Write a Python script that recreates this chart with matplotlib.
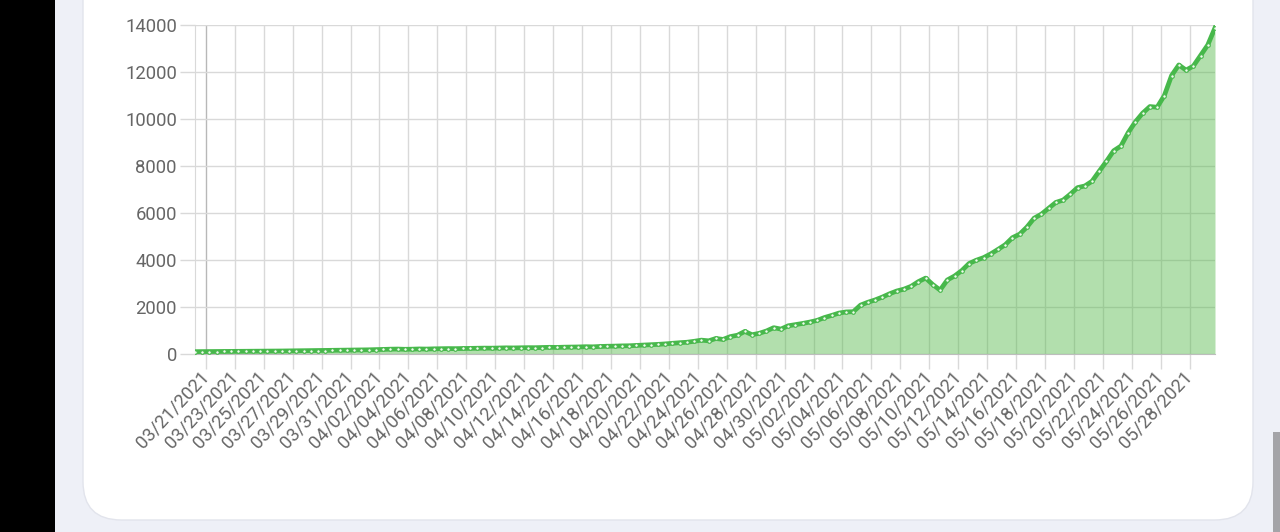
import matplotlib
matplotlib.use('Agg')
import matplotlib.pyplot as plt
from matplotlib.patches import Rectangle, FancyBboxPatch
import pandas as pd

start_time = '2021-03-20 06:00'
step = '12h'

values = [
    100, 102, 105, 104, 108, 110, 112, 110, 115, 118,
    122, 125, 128, 132, 135, 138, 140, 145, 148, 152,
    158, 162, 168, 172, 178, 185, 195, 205, 210, 200,
    205, 215, 210, 220, 225, 230, 228, 235, 240, 245,
    250, 248, 255, 262, 258, 265, 270, 268, 275, 285,
    280, 290, 295, 300, 310, 305, 320, 330, 335, 345,
    350, 365, 380, 395, 410, 430, 455, 480, 500, 540,
    590, 560, 660, 620, 740, 800, 960, 820, 880, 980,
    1120, 1060, 1200, 1250, 1300, 1360, 1430, 1550, 1640, 1740,
    1790, 1800, 2080, 2200, 2300, 2420, 2560, 2680, 2760, 2880,
    3080, 3230, 2950, 2720, 3150, 3320, 3550, 3850, 3990, 4100,
    4260, 4450, 4650, 4950, 5100, 5400, 5780, 5950, 6200, 6450,
    6550, 6800, 7080, 7150, 7350, 7780, 8200, 8650, 8850, 9420,
    9880, 10250, 10530, 10500, 11000, 11850, 12300, 12080, 12250, 12700,
    13150, 13880,
]

tick_labels = [
    '03/21/2021', '03/23/2021', '03/25/2021', '03/27/2021', '03/29/2021',
    '03/31/2021', '04/02/2021', '04/04/2021', '04/06/2021', '04/08/2021',
    '04/10/2021', '04/12/2021', '04/14/2021', '04/16/2021', '04/18/2021',
    '04/20/2021', '04/22/2021', '04/24/2021', '04/26/2021', '04/28/2021',
    '04/30/2021', '05/02/2021', '05/04/2021', '05/06/2021', '05/08/2021',
    '05/10/2021', '05/12/2021', '05/14/2021', '05/16/2021', '05/18/2021',
    '05/20/2021', '05/22/2021', '05/24/2021', '05/26/2021', '05/28/2021',
]
y_ticks = [0, 2000, 4000, 6000, 8000, 10000, 12000, 14000]

plt.rcParams['font.family'] = ['Roboto', 'DejaVu Sans']

W, H = 1280, 532
fig = plt.figure(figsize=(W / 100, H / 100), dpi=100)
fig.patch.set_facecolor('#eef0f7')

# page decorations
fig.add_artist(Rectangle((0, 0), 55 / W, 1, transform=fig.transFigure,
                         facecolor='black', edgecolor='none', zorder=0))
card = FancyBboxPatch((83 / W, (H - 520) / H), (1253 - 83) / W, 1.2,
                      boxstyle='round,pad=0,rounding_size=0.03',
                      mutation_aspect=W / H,
                      transform=fig.transFigure, facecolor='white',
                      edgecolor='#e2e4ec', linewidth=1.0, zorder=0)
fig.add_artist(card)
fig.add_artist(Rectangle((1273 / W, 0), 7 / W, (H - 432) / H, transform=fig.transFigure,
                         facecolor='#a4a4a8', edgecolor='none', zorder=0))

ax = fig.add_axes([195 / W, (H - 354) / H, 1020 / W, 329 / H])
ax.set_facecolor('none')

times = pd.date_range(start_time, periods=len(values), freq=step)
tick_pos = pd.to_datetime(tick_labels, format='%m/%d/%Y')

ax.fill_between(times, values, 0, color='#55b94a', alpha=0.45, linewidth=0, zorder=2)
ax.plot(times, values, color='#47b84b', linewidth=3.4, marker='o', markersize=2.6,
        markerfacecolor='#f0fbef', markeredgecolor='#47b84b', markeredgewidth=0.8, zorder=3)

ax.set_xlim(times[0], times[-1])
ax.set_ylim(0, 14000)
ax.set_yticks(y_ticks)
ax.set_yticklabels([str(v) for v in y_ticks])
ax.set_xticks(tick_pos)
ax.set_xticklabels(tick_labels, rotation=47, ha='right', va='center',
                   rotation_mode='anchor')

ax.grid(True, color='#d9d9d9', linewidth=1.0, zorder=1)
ax.set_axisbelow(True)
ax.tick_params(axis='both', colors='#d9d9d9', labelcolor='#666666', labelsize=13.3,
               length=11, width=1.0)
ax.tick_params(axis='x', pad=3)
ax.tick_params(axis='y', pad=2)
ax.get_xgridlines()[0].set_color('#b8b8b8')
for s in ['top', 'right']:
    ax.spines[s].set_visible(False)
ax.spines['left'].set_color('#d9d9d9')
ax.spines['bottom'].set_color('#bdbdbd')

fig.savefig('out.png', dpi=100, facecolor=fig.get_facecolor())
